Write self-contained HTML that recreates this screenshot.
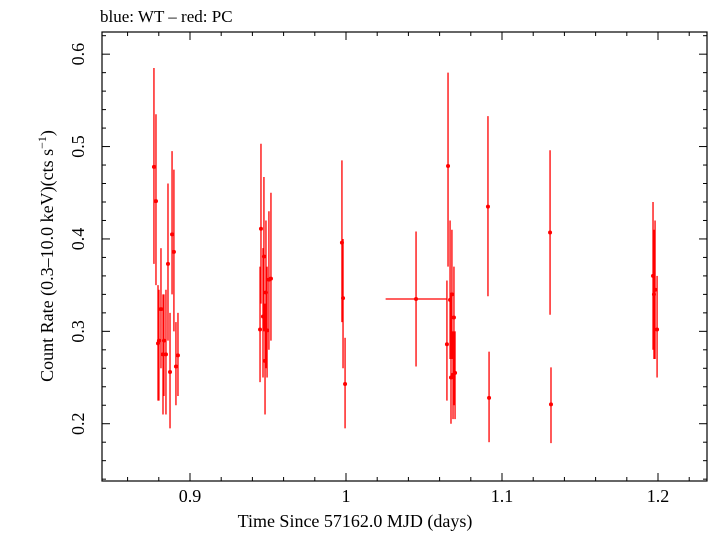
<!DOCTYPE html>
<html><head><meta charset="utf-8"><style>
body{margin:0;background:#fff}
svg text{font-family:"Liberation Serif",serif;fill:#000}
</style></head><body>
<svg id="chart" width="709" height="532" xmlns="http://www.w3.org/2000/svg">
<text x="100" y="22" font-size="17">blue: WT – red: PC</text>
<rect x="102" y="32" width="605" height="449" fill="none" stroke="#000" stroke-width="1.2"/>
<g id="axes"></g>
<g id="marks"></g>
<text x="355" y="527" font-size="18" text-anchor="middle">Time Since 57162.0 MJD (days)</text>
<text transform="translate(53,256) rotate(-90)" font-size="18" text-anchor="middle">Count Rate (0.3–10.0 keV)(cts s<tspan baseline-shift="super" font-size="12">−1</tspan>)</text>
</svg>
<script>
const times=[0.8769,0.8782,0.8795,0.8801,0.8814,0.8827,0.8833,0.8846,0.8859,0.8872,0.8885,0.8897,0.891,0.8923,
0.9449,0.9455,0.9468,0.9474,0.9481,0.9487,0.9494,0.9506,0.9519,
0.9974,0.9981,0.9994,1.0449,
1.0647,1.0654,1.0667,1.0673,1.0679,1.0686,1.0692,1.0699,
1.091,1.0917,1.1308,1.1314,1.1968,1.1974,1.1981,1.1994];
const rates=[0.478,0.441,0.287,0.29,0.324,0.275,0.29,0.275,0.373,0.256,0.405,0.386,0.262,0.274,
0.302,0.411,0.316,0.381,0.268,0.342,0.301,0.356,0.357,
0.396,0.336,0.243,0.335,
0.286,0.479,0.334,0.25,0.34,0.253,0.315,0.255,
0.435,0.228,0.407,0.221,0.36,0.34,0.345,0.302];
const rateLo=[0.373,0.35,0.225,0.225,0.26,0.21,0.23,0.21,0.29,0.195,0.34,0.30,0.22,0.23,
0.245,0.33,0.25,0.30,0.21,0.26,0.25,0.28,0.29,
0.31,0.26,0.195,0.262,
0.225,0.37,0.27,0.2,0.27,0.205,0.22,0.205,
0.338,0.18,0.318,0.179,0.28,0.27,0.27,0.25];
const rateHi=[0.585,0.535,0.35,0.345,0.39,0.34,0.34,0.345,0.46,0.32,0.495,0.475,0.31,0.32,
0.37,0.503,0.39,0.467,0.33,0.42,0.37,0.43,0.45,
0.485,0.40,0.293,0.408,
0.355,0.58,0.42,0.34,0.41,0.30,0.37,0.30,
0.533,0.278,0.496,0.261,0.44,0.41,0.42,0.36];
const timeErr=[0,0,0,0,0,0,0,0,0,0,0,0,0,0,0,0,0,0,0,0,0,0,0,0,0,0,0.0195,0,0,0,0,0,0,0,0,0,0,0,0,0,0,0,0];
const xTicks=[0.9,1.0,1.1,1.2];
const xTickLabels=["0.9","1","1.1","1.2"];
const yTicks=[0.2,0.3,0.4,0.5,0.6];
const yTickLabels=["0.2","0.3","0.4","0.5","0.6"];
const NS="http://www.w3.org/2000/svg";
const X0=102,X1=707,Y0=32,Y1=481;
const xMin=0.8436,xMax=1.2314,yMin=0.138,yMax=0.624;
const sx=t=>X0+(t-xMin)/(xMax-xMin)*(X1-X0);
const sy=v=>Y1-(v-yMin)/(yMax-yMin)*(Y1-Y0);
function mk(tag,attrs,parent){const e=document.createElementNS(NS,tag);for(const k in attrs)e.setAttribute(k,attrs[k]);parent.appendChild(e);return e;}
const axes=document.getElementById('axes'),marks=document.getElementById('marks');
for(let v=0.86;v<1.235;v+=0.02){const x=sx(v);const major=Math.abs(v*10-Math.round(v*10))<1e-6;const L=major?8:4;
const a=mk('line',{x1:x,x2:x,y1:Y1,y2:Y1-L,stroke:'#000'},axes);


const b=mk('line',{x1:x,x2:x,y1:Y0,y2:Y0+L,stroke:'#000'},axes);

}
for(let v=0.14;v<0.625;v+=0.02){const y=sy(v);const major=Math.abs(v*10-Math.round(v*10))<1e-6;const L=major?8:4;
const a=mk('line',{x1:X0,x2:X0+L,y1:y,y2:y,stroke:'#000'},axes);


const b=mk('line',{x1:X1,x2:X1-L,y1:y,y2:y,stroke:'#000'},axes);

}
xTicks.forEach((v,i)=>{const t=mk('text',{x:sx(v),y:502,'font-size':18,'text-anchor':'middle'},axes);t.textContent=xTickLabels[i];

});
yTicks.forEach((v,i)=>{const t=mk('text',{transform:`translate(84,${sy(v)}) rotate(-90)`,'font-size':18,'text-anchor':'middle'},axes);t.textContent=yTickLabels[i];

});
times.forEach((t,i)=>{const x=sx(t),y=sy(rates[i]);
const g=mk('g',{},marks);


mk('line',{x1:x,x2:x,y1:sy(rateLo[i]),y2:sy(rateHi[i]),stroke:'#f00','stroke-width':1.3},g);
if(timeErr[i]>0)mk('line',{x1:sx(t-timeErr[i]),x2:sx(t+timeErr[i]),y1:y,y2:y,stroke:'#f00','stroke-width':1.3},g);
mk('circle',{cx:x,cy:y,r:2,fill:'#f00'},g);});
</script>
</body></html>
